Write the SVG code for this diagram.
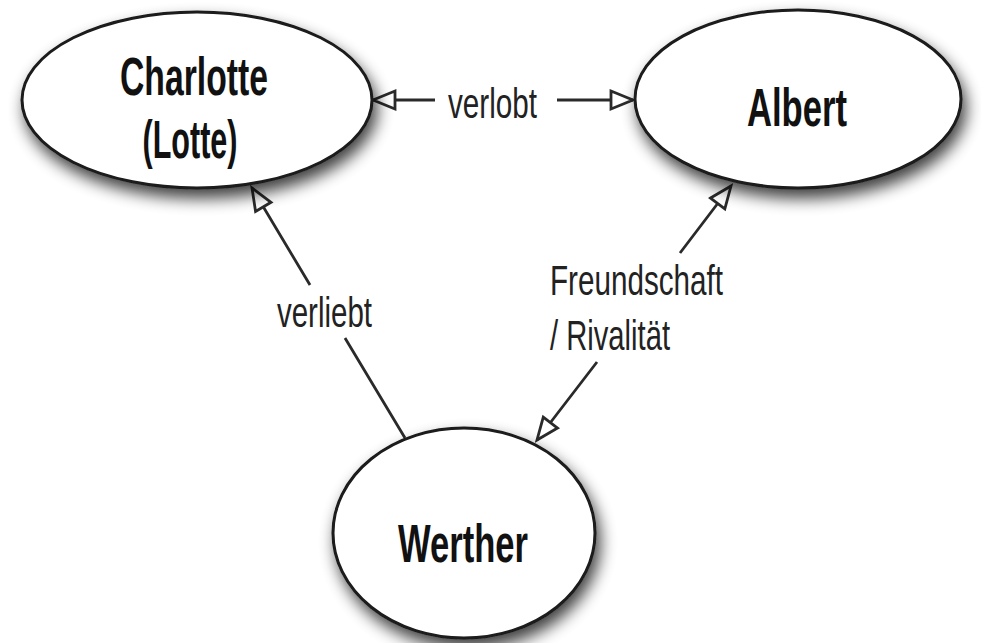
<svg xmlns="http://www.w3.org/2000/svg" width="981" height="643" viewBox="0 0 981 643">
<style>
.node ellipse{fill:#fff;stroke:#1a1a1a;stroke-width:3;filter:url(#sh)}
.nt{font-family:"Liberation Sans Narrow","Liberation Sans",Arial,sans-serif;font-weight:bold;font-size:53px;fill:#111;text-anchor:middle}
.lt{font-family:"Liberation Sans Narrow","Liberation Sans",Arial,sans-serif;font-size:43px;fill:#222}
.edge{fill:none;stroke:#2a2a2a;stroke-width:2.8}
</style>
<defs>
<filter id="sh" x="-20%" y="-20%" width="140%" height="150%">
<feGaussianBlur in="SourceAlpha" stdDeviation="8"/>
<feOffset dx="4" dy="9" result="b"/>
<feComponentTransfer><feFuncA type="linear" slope="0.75"/></feComponentTransfer>
<feMerge><feMergeNode/><feMergeNode in="SourceGraphic"/></feMerge>
</filter>
<marker id="ah" viewBox="-3 -3 28 24" refX="22" refY="9" markerWidth="28" markerHeight="24" markerUnits="userSpaceOnUse" orient="auto-start-reverse">
<path d="M0,0 L22,9 L0,18 Z" fill="#fff" stroke="#2a2a2a" stroke-width="2.8" stroke-linejoin="miter"/>
</marker>
</defs>
<rect width="981" height="643" fill="#fff"/>
<g id="connectors">
<path class="edge" d="M373,100 L435,100 M557,100 L633,100" marker-start="url(#ah)" marker-end="url(#ah)"/>
<path class="edge" d="M405,438 L345,338 M310,285 L252,188" marker-end="url(#ah)"/>
<path class="edge" d="M731,186 L680,253 M597,362 L537,440" marker-start="url(#ah)" marker-end="url(#ah)"/>
<text class="lt" x="448" y="118" textLength="89" lengthAdjust="spacingAndGlyphs">verlobt</text>
<text class="lt" x="277" y="327" textLength="95" lengthAdjust="spacingAndGlyphs">verliebt</text>
<text class="lt" x="550" y="295" textLength="173" lengthAdjust="spacingAndGlyphs">Freundschaft</text>
<text class="lt" x="550" y="350" textLength="120" lengthAdjust="spacingAndGlyphs">/ Rivalität</text>
</g>
<g id="charlotte" class="node">
<ellipse cx="197" cy="100" rx="175" ry="88"/>
<text class="nt" x="194" y="95" textLength="148" lengthAdjust="spacingAndGlyphs">Charlotte</text>
<text class="nt" x="190" y="158" textLength="95" lengthAdjust="spacingAndGlyphs">(Lotte)</text>
</g>
<g id="albert" class="node">
<ellipse cx="798" cy="99" rx="163" ry="89"/>
<text class="nt" x="797" y="126" textLength="100" lengthAdjust="spacingAndGlyphs">Albert</text>
</g>
<g id="werther" class="node">
<ellipse cx="464" cy="533" rx="131" ry="105"/>
<text class="nt" x="463" y="562" textLength="130" lengthAdjust="spacingAndGlyphs">Werther</text>
</g>
</svg>
